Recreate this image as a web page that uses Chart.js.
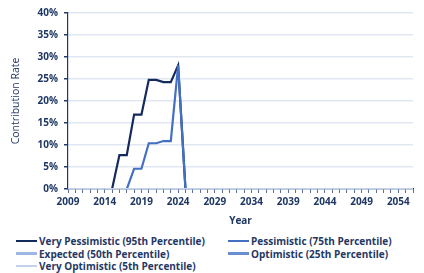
<!DOCTYPE html>
<html>
<head>
<meta charset="utf-8">
<script src="https://cdn.jsdelivr.net/npm/chart.js@4"></script>
<style>
  body{margin:0;background:#fff;width:424px;height:273px;overflow:hidden;font-family:"Open Sans",sans-serif;}
  #wrap{position:relative;width:424px;height:227px;}
  #legend{position:absolute;left:0;top:234px;width:424px;}
  .item{position:absolute;display:flex;align-items:center;font-size:10px;font-weight:700;color:#1F3864;white-space:nowrap;}
  .item span.sw{display:inline-block;width:21px;height:2.5px;margin-right:2px;}
</style>
</head>
<body>
<div id="wrap"><canvas id="chart"></canvas></div>
<div id="legend"></div>
<script>
// years on the x axis
let years = [];
for (let y = 2009; y <= 2056; y++) years.push(String(y));

let seriesNames = ['Very Pessimistic (95th Percentile)', 'Pessimistic (75th Percentile)', 'Expected (50th Percentile)', 'Optimistic (25th Percentile)', 'Very Optimistic (5th Percentile)'];
let seriesColors = ['#14295C', '#4470C4', '#9DB7E3', '#6A8ED2', '#C3D3EF'];

let zeros32 = [0,0,0,0,0,0,0,0,0,0,0,0,0,0,0,0,0,0,0,0,0,0,0,0,0,0,0,0,0,0,0,0];
let veryPessimistic = [0,0,0,0,0,0,0, 7.7,7.7,16.9,16.9,24.8,24.8,24.3,24.3,28.1].concat(zeros32);
let pessimistic = [0,0,0,0,0,0,0,0,0, 4.6,4.6,10.4,10.4,10.9,10.9,28.1].concat(zeros32);
let expected = [0,0,0,0,0,0,0,0,0,0,0,0,0,0,0,0].concat(zeros32);
let optimistic = [0,0,0,0,0,0,0,0,0,0,0,0,0,0,0,0].concat(zeros32);
let veryOptimistic = [0,0,0,0,0,0,0,0,0,0,0,0,0,0,0,0].concat(zeros32);
let seriesData = [veryPessimistic, pessimistic, expected, optimistic, veryOptimistic];

let navy = '#1F3864';
let font = {family: '"Open Sans", sans-serif', size: 10, weight: '700'};

let datasets = seriesNames.map((name, i) => ({
    label: name,
    data: seriesData[i],
    borderColor: seriesColors[i],
    backgroundColor: seriesColors[i],
    borderWidth: 2.2,
    pointRadius: 0,
    tension: 0,
    order: 4 - i   // lighter lines on top, like the original
}));

new Chart(document.getElementById('chart'), {
    type: 'line',
    data: {labels: years, datasets: datasets},
    options: {
        responsive: true,
        maintainAspectRatio: false,
        animation: false,
        layout: {padding: {top: 13, right: 11, left: 6, bottom: 0}},
        plugins: {legend: {display: false}, tooltip: {enabled: false}},
        scales: {
            x: {
                offset: false,
                grid: {drawOnChartArea: false, drawTicks: true, tickLength: 4, tickColor: '#5a6f99'},
                border: {color: navy, width: 1.2},
                ticks: {
                    autoSkip: false, maxRotation: 0, color: navy, font: font, padding: 3,
                    callback: function(v, idx){ return idx % 5 === 0 ? years[idx] : ''; }
                },
                title: {display: true, text: 'Year', color: navy, font: font, padding: {top: 4, bottom: 0}}
            },
            y: {
                min: 0, max: 40,
                grid: {color: '#E1E7F2', lineWidth: 1.5, tickLength: 4, tickColor: navy},
                border: {color: navy, width: 1.2},
                ticks: {stepSize: 5, color: navy, font: font, padding: 6, callback: v => v + '%'},
                title: {display: true, text: 'Contribution Rate', color: navy, font: {family: font.family, size: 10.5, weight: '400'}, padding: {bottom: 9}}
            }
        }
    }
});

// two-column legend under the chart
let legendPos = [[16, 0], [228, 0], [16, 12.5], [228, 12.5], [16, 25]];
let legend = document.getElementById('legend');
seriesNames.forEach((name, i) => {
    let div = document.createElement('div');
    div.className = 'item';
    div.style.left = legendPos[i][0] + 'px';
    div.style.top = legendPos[i][1] + 'px';
    div.innerHTML = `<span class="sw" style="background:${seriesColors[i]}"></span>${name}`;
    legend.appendChild(div);
});
</script>
</body>
</html>
